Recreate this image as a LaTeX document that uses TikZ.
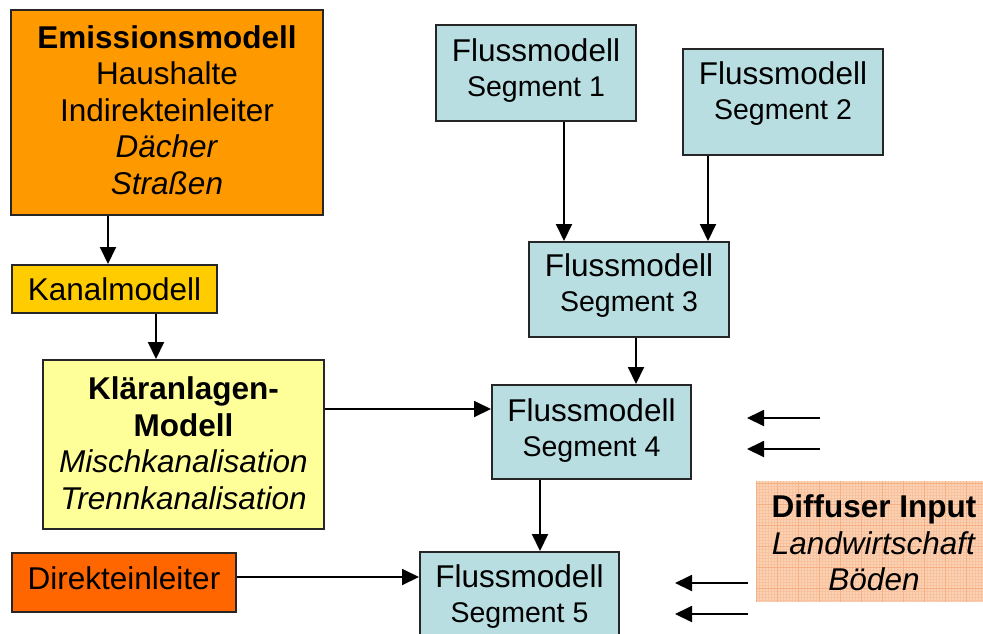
\documentclass[tikz,border=0pt]{standalone}
\usepackage{fontspec}
\setmainfont{Liberation Sans}
\usetikzlibrary{arrows.meta,calc}
\definecolor{emorange}{RGB}{255,153,0}
\definecolor{kanalc}{RGB}{255,204,0}
\definecolor{klarc}{RGB}{255,255,153}
\definecolor{direktc}{RGB}{255,102,0}
\definecolor{segc}{RGB}{185,222,226}
\definecolor{diffc}{RGB}{251,210,180}
\definecolor{gridc}{RGB}{240,140,80}
\newcommand\mySegFont{\fontsize{28.5}{35}\selectfont}
\newcommand\myMainFont{\fontsize{31.5}{36.5}\selectfont}
\begin{document}
\begin{tikzpicture}[x=1pt,y=-1pt,
  box/.style={draw=black!85, line width=2pt, inner sep=0pt},
  seg/.style={box, fill=segc},
  txt/.style={align=center, inner sep=0pt, font=\myMainFont},
  stxt/.style={align=center, inner sep=0pt, font=\fontsize{31.5}{35}\selectfont},
  arr/.style={-{Triangle[length=17pt,width=16pt]}, line width=1.9pt}
]
\useasboundingbox (0,0) rectangle (983,633);
\clip (0,0) rectangle (983,633);

% boxes
\node[box, fill=emorange, minimum width=312pt, minimum height=205pt] (em) at (167,112.5) {};
\node[box, fill=kanalc, minimum width=205pt, minimum height=48pt] (ka) at (114.5,289) {};
\node[box, fill=klarc, minimum width=281pt, minimum height=169pt] (kl) at (183.5,444.5) {};
\node[box, fill=direktc, minimum width=224pt, minimum height=59pt] (di) at (124,582.5) {};
\node[seg, minimum width=200pt, minimum height=96pt] (s1) at (536,73) {};
\node[seg, minimum width=200pt, minimum height=106pt] (s2) at (783,102) {};
\node[seg, minimum width=200pt, minimum height=95pt] (s3) at (629,289.5) {};
\node[seg, minimum width=199pt, minimum height=94pt] (s4) at (591.5,432) {};
\node[seg, minimum width=199pt, minimum height=95pt] (s5) at (519.5,599.5) {};

% diffuse input box with grid texture
\node[fill=diffc, inner sep=0pt, minimum width=227pt, minimum height=121pt] (df) at (869.5,541.5) {};
\begin{scope}
  \clip (df.south west) rectangle (df.north east);
  \draw[gridc, opacity=0.22, line width=0.35pt, step=3pt] (df.south west) grid (df.north east);
  \draw[gridc, opacity=0.35, line width=0.5pt, step=21pt] (df.south west) grid (df.north east);
\end{scope}

% texts
\node[txt] (emt) at (167,110) {\textbf{Emissionsmodell}\\Haushalte\\Indirekteinleiter\\\textit{Dächer}\\\textit{Straßen}};
\node[txt] (kat) at (114.5,289) {Kanalmodell};
\node[txt] (klt) at (183.5,443) {\textbf{Kläranlagen-}\\\textbf{Modell}\\\textit{Mischkanalisation}\\\textit{Trennkanalisation}};
\node[txt] (dit) at (124,578.5) {Direkteinleiter};
\node[stxt] (s1t) at (536,71) {Flussmodell\\{\mySegFont Segment 1}};
\node[stxt] (s2t) at (783,94) {Flussmodell\\{\mySegFont Segment 2}};
\node[stxt] (s3t) at (629,286) {Flussmodell\\{\mySegFont Segment 3}};
\node[stxt] (s4t) at (591.5,431) {Flussmodell\\{\mySegFont Segment 4}};
\node[stxt] (s5t) at (519.5,597) {Flussmodell\\{\mySegFont Segment 5}};
\node[txt] (dft) at (874,543) {\textbf{Diffuser Input}\\\textit{Landwirtschaft}\\\textit{Böden}};

% connectors
\draw[arr] ([xshift=-59pt]em.south) coordinate (e1) -- (e1 |- ka.north);
\draw[arr] ([xshift=41.5pt]ka.south) coordinate (k1) -- (k1 |- kl.north);
\draw[arr] ([yshift=35.5pt]kl.east) coordinate (k2) -- (k2 -| s4.west);
\draw[arr] ([yshift=5.5pt]di.east) coordinate (d1) -- (d1 -| s5.west);
\draw[arr] ([xshift=28pt]s1.south) coordinate (a1) -- (a1 |- s3.north);
\draw[arr] ([xshift=-75pt]s2.south) coordinate (a2) -- (a2 |- s3.north);
\draw[arr] ([xshift=7pt]s3.south) coordinate (a3) -- (a3 |- s4.north);
\draw[arr] ([xshift=-51.5pt]s4.south) coordinate (a4) -- (a4 |- s5.north);

% free input arrows
\coordinate (r1) at (820,418); \coordinate (r1e) at (747,418);
\coordinate (r2) at (820,449); \coordinate (r2e) at (747,449);
\coordinate (r3) at (748,583); \coordinate (r3e) at (675,583);
\coordinate (r4) at (748,614); \coordinate (r4e) at (675,614);
\draw[arr] (r1) -- (r1e);
\draw[arr] (r2) -- (r2e);
\draw[arr] (r3) -- (r3e);
\draw[arr] (r4) -- (r4e);
\end{tikzpicture}
\end{document}
